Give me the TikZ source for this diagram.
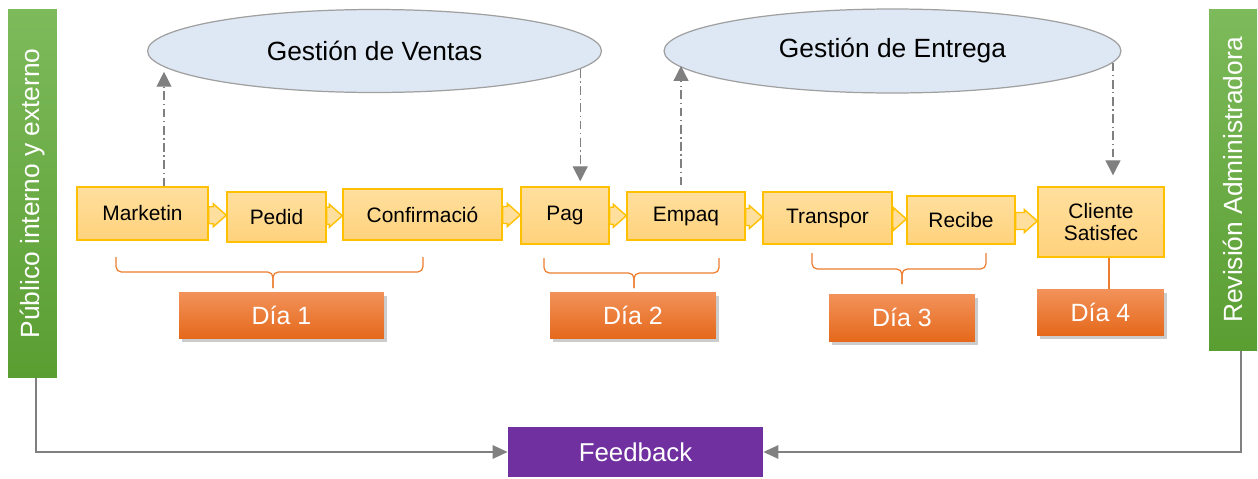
\documentclass[tikz,border=0pt]{standalone}
\usepackage{fontspec}
\setmainfont{Liberation Sans}
\usetikzlibrary{calc,arrows.meta,shadows,shapes.geometric}
\definecolor{amarillo}{HTML}{FFC000}
\definecolor{cajaclara}{HTML}{FFDF9E}
\definecolor{cajaoscura}{HTML}{FFD27C}
\definecolor{azulclaro}{HTML}{DEE8F4}
\definecolor{grisborde}{HTML}{A0A0A0}
\definecolor{grisflecha}{HTML}{808080}
\definecolor{naranjaclaro}{HTML}{F2925A}
\definecolor{naranjaoscuro}{HTML}{E5691C}
\definecolor{naranjallave}{HTML}{ED7D31}
\definecolor{verdeclaro}{HTML}{7DBA5B}
\definecolor{verdeoscuro}{HTML}{5A9E32}
\definecolor{morado}{HTML}{7030A0}
% flecha de bloque entre dos cajas
\newcommand{\flecha}[2]{%
  \path (#1.east) -- (#2.west) coordinate[pos=0] (ta) coordinate[pos=1] (tb) coordinate[midway] (tm);
  \filldraw[flechabloque] ($(ta |- tm)+(0,8.5)$) -- ($(tb |- tm)+(-13,8.5)$) -- ($(tb |- tm)+(-13,11.5)$)
    -- (tb |- tm) -- ($(tb |- tm)+(-13,-11.5)$) -- ($(tb |- tm)+(-13,-8.5)$) -- ($(ta |- tm)+(0,-8.5)$) -- cycle;}
\begin{document}
\begin{tikzpicture}[x=0.02cm,y=0.02cm,
	caja/.style={rectangle,draw=amarillo,line width=0.8pt,top color=cajaclara,bottom color=cajaoscura,
		inner sep=0pt,align=center,font=\fontsize{11.9}{13}\selectfont},
	elipse/.style={ellipse,draw=grisborde,fill=azulclaro,line width=0.7pt,inner sep=0pt,font=\fontsize{15}{18}\selectfont},
	dia/.style={rectangle,top color=naranjaclaro,bottom color=naranjaoscuro,text=white,
		font=\fontsize{14.2}{17}\selectfont,drop shadow={shadow xshift=1.5pt,shadow yshift=-2pt,opacity=0.4}},
	barra/.style={rectangle,rotate=90,top color=verdeclaro,bottom color=verdeoscuro,text=white,font=\fontsize{15}{18}\selectfont},
	flechabloque/.style={draw=amarillo,fill=cajaclara,line width=0.8pt},
	gestion/.style={draw=grisflecha,line width=0.7pt,dash pattern={on 5pt off 2pt on 0.8pt off 2pt},
		-{Triangle[width=8.5pt,length=8.5pt]}},
	retro/.style={draw=grisflecha,line width=1.2pt,-{Triangle[width=7.5pt,length=8.5pt]}},
	llave/.style={draw=naranjallave,line width=0.7pt,rounded corners=3pt}]
\useasboundingbox (0,0) rectangle (1258,478);

\node[barra,minimum width=7.38cm,minimum height=0.98cm] (pub) at (32.5,284.5) {Público interno y externo};
\node[barra,minimum width=6.84cm,minimum height=0.96cm] (rev) at (1233,298) {Revisión Administradora};

\node[elipse,minimum width=9.08cm,minimum height=1.66cm] (e1) at (374.5,427) {Gestión de Ventas};
\node[elipse,minimum width=9.14cm,minimum height=1.68cm] (e2) at (892.5,427) {Gestión de Entrega};

\node[caja,minimum width=2.62cm,minimum height=1.06cm] (mkt) at (142.5,264.5) {Marketin};
\node[caja,minimum width=1.98cm,minimum height=1.00cm] (ped) at (276.5,261) {Pedid};
\node[caja,minimum width=3.18cm,minimum height=1.02cm] (conf) at (422.5,263.5) {Confirmació};
\node[caja,minimum width=1.76cm,minimum height=1.14cm] (pag) at (565,262.5) {Pag};
\node[caja,minimum width=2.36cm,minimum height=0.96cm] (emp) at (686,262) {Empaq};
\node[caja,minimum width=2.58cm,minimum height=1.04cm] (tra) at (827.5,260) {Transpor};
\node[caja,minimum width=2.16cm,minimum height=0.96cm] (rec) at (961,258) {Recibe};
\node[caja,minimum width=2.52cm,minimum height=1.40cm] (cli) at (1101,256) {Cliente\\Satisfec};

\flecha{mkt}{ped}
\flecha{ped}{conf}
\flecha{conf}{pag}
\flecha{pag}{emp}
\flecha{emp}{tra}
\flecha{tra}{rec}
\flecha{rec}{cli}

\node[dia,minimum width=4.10cm,minimum height=0.92cm] (d1) at (281.5,163) {Día 1};
\node[dia,minimum width=3.32cm,minimum height=0.92cm] (d2) at (633,163) {Día 2};
\node[dia,minimum width=2.92cm,minimum height=0.94cm] (d3) at (902,160.5) {Día 3};
\node[dia,minimum width=2.54cm,minimum height=0.92cm] (d4) at (1100.5,166) {Día 4};

\node[rectangle,fill=morado,text=white,minimum width=5.10cm,minimum height=1.00cm,
	font=\fontsize{14.7}{17}\selectfont] (fb) at (635.5,26) {Feedback};

% llaves
\draw[llave] (116,221) -- (116,206) -- (273,206) -- (273,190);
\draw[llave] (423,221) -- (423,206) -- (273,206) -- (273,190);
\draw[llave] (544,220) -- (544,205) -- (634,205) -- (634,190);
\draw[llave] (719,220) -- (719,205) -- (634,205) -- (634,190);
\draw[llave] (812,225) -- (812,209) -- (902,209) -- (902,194);
\draw[llave] (986,225) -- (986,209) -- (902,209) -- (902,194);
\coordinate (c4) at ($(cli.south)+(8,0)$);
\draw[llave] (c4) -- (c4 |- d4.north);

% gestion
\coordinate (g1) at ($(mkt.north)+(21.5,0)$);
\draw[gestion] (g1) -- (g1 |- e1.186);
\draw[gestion] (e1.-5.5) -- ($(e1.-5.5 |- pag.north)+(0,5)$);
\coordinate (g2) at ($(emp.north)+(-5,6)$);
\draw[gestion] (g2) -- (g2 |- e2.184.3);
\draw[gestion] (e2.-3.9) -- ($(e2.-3.9 |- cli.north)+(0,11)$);

% feedback
\draw[retro] ($(pub.west)+(3.5,0)$) |- (fb.west);
\draw[retro] ($(rev.west)+(8,0)$) |- (fb.east);
\end{tikzpicture}
\end{document}
